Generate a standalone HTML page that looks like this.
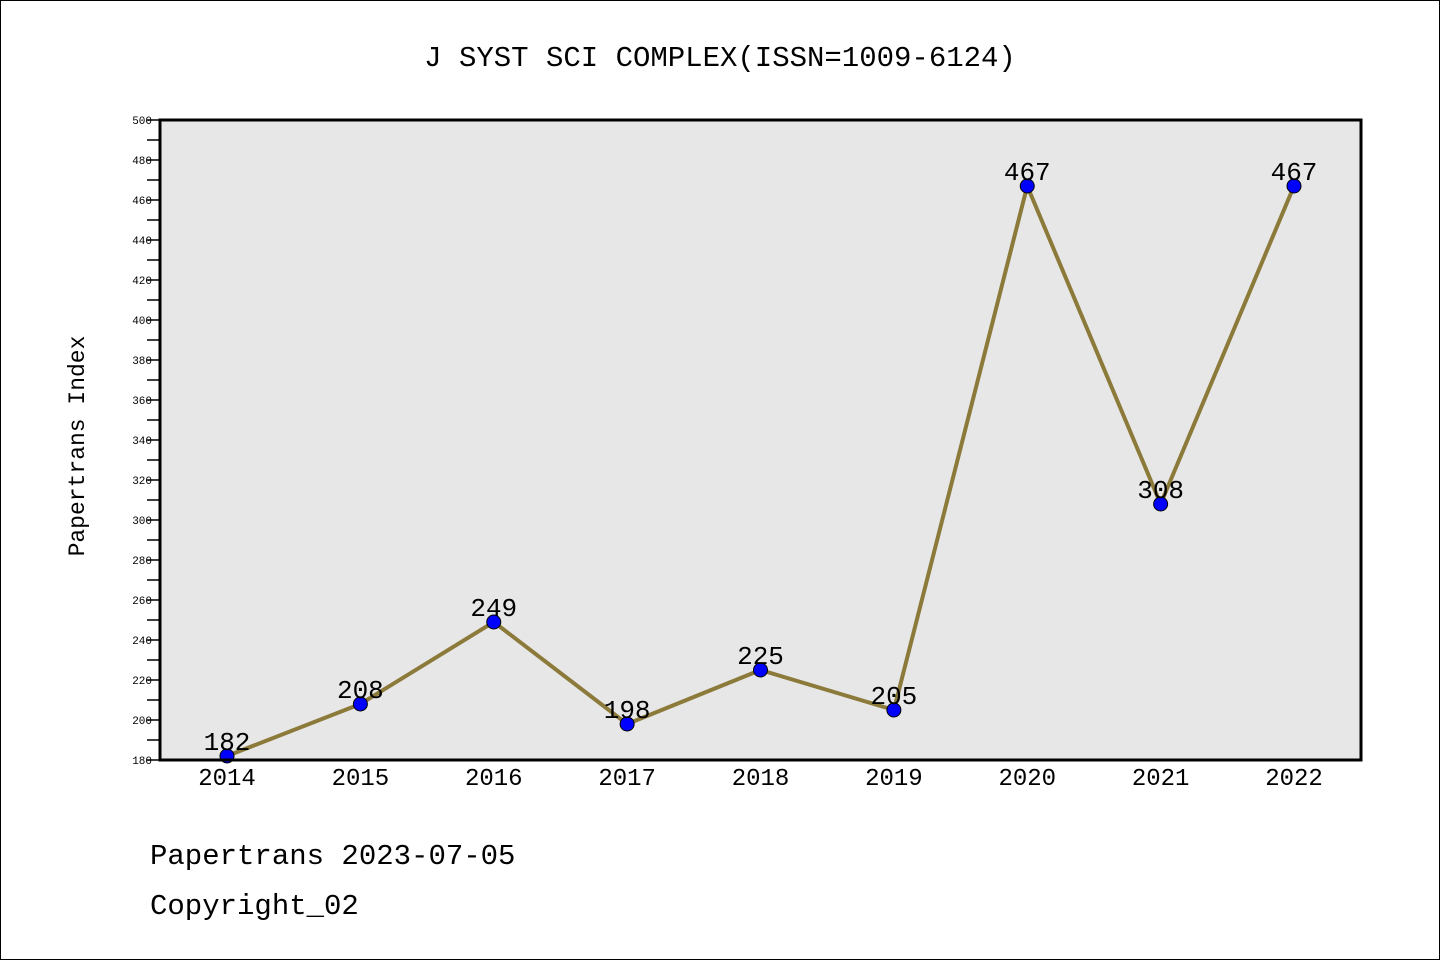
<!DOCTYPE html>
<html><head><meta charset="utf-8"><style>
html,body{margin:0;padding:0;background:#fff;}
svg{display:block;font-family:"WenQuanYi Zen Hei Mono","WenQuanYi Zen Hei","Liberation Mono",monospace;}
</style></head><body>
<svg id="chart" width="1440" height="960" xmlns="http://www.w3.org/2000/svg">
<rect x="0.5" y="0.5" width="1439" height="959" fill="#fff" stroke="#000"/>
<text x="720" y="66" font-size="29" text-anchor="middle">J SYST SCI COMPLEX(ISSN=1009-6124)</text>
<rect x="160" y="120" width="1201" height="640" fill="#e7e7e7"/>
<g id="axes"></g>
<g id="series"></g>
<rect x="160" y="120" width="1201" height="640" fill="none" stroke="#000" stroke-width="3"/>
<text transform="translate(84,446) rotate(-90)" font-size="23" text-anchor="middle">Papertrans Index</text>
<text x="150" y="864" font-size="29">Papertrans 2023-07-05</text>
<text x="150" y="914" font-size="29">Copyright_02</text>
</svg>
<script>
const categories=["2014","2015","2016","2017","2018","2019","2020","2021","2022"];
const values=[182,208,249,198,225,205,467,308,467];
const yTicks=[180,200,220,240,260,280,300,320,340,360,380,400,420,440,460,480,500];
(function(){
const NS="http://www.w3.org/2000/svg";
const yMin=180,yMax=500,plotTop=120,plotBot=760;
const x0=227,x1=1294;
function xs(i){return x0+(x1-x0)*i/(categories.length-1);}
function ys(v){return plotBot-(v-yMin)/(yMax-yMin)*(plotBot-plotTop);}
function mk(t,a,p){const e=document.createElementNS(NS,t);for(const k in a)e.setAttribute(k,a[k]);p.appendChild(e);return e;}
const axes=document.getElementById('axes'),ser=document.getElementById('series');
for(let v=yMin;v<=yMax;v+=10){
 const l=mk('line',{x1:147,x2:160,y1:ys(v),y2:ys(v),stroke:'#000','stroke-width':1.5},axes);
 
 
}
yTicks.forEach(v=>{
 const t=mk('text',{x:152,y:ys(v)+4,'font-size':11,'text-anchor':'end'},axes);
 t.textContent=v;
 
 
});
categories.forEach((c,i)=>{
 const t=mk('text',{x:xs(i),y:785,'font-size':24,'text-anchor':'middle'},axes);
 t.textContent=c;
 
 
});
const pts=values.map((v,i)=>xs(i)+','+ys(v)).join(' ');
const pl=mk('polyline',{points:pts,fill:'none',stroke:'#8c7a3a','stroke-width':4,'stroke-linejoin':'round'},ser);


values.forEach((v,i)=>{
 const c=mk('circle',{cx:xs(i),cy:ys(v),r:7,fill:'#0000ff',stroke:'#000','stroke-width':1},ser);
 
 
 const t=mk('text',{x:xs(i),y:ys(v)-6,'font-size':26,'text-anchor':'middle'},ser);
 t.textContent=v;
 
 
});
})();
</script>
</body></html>
